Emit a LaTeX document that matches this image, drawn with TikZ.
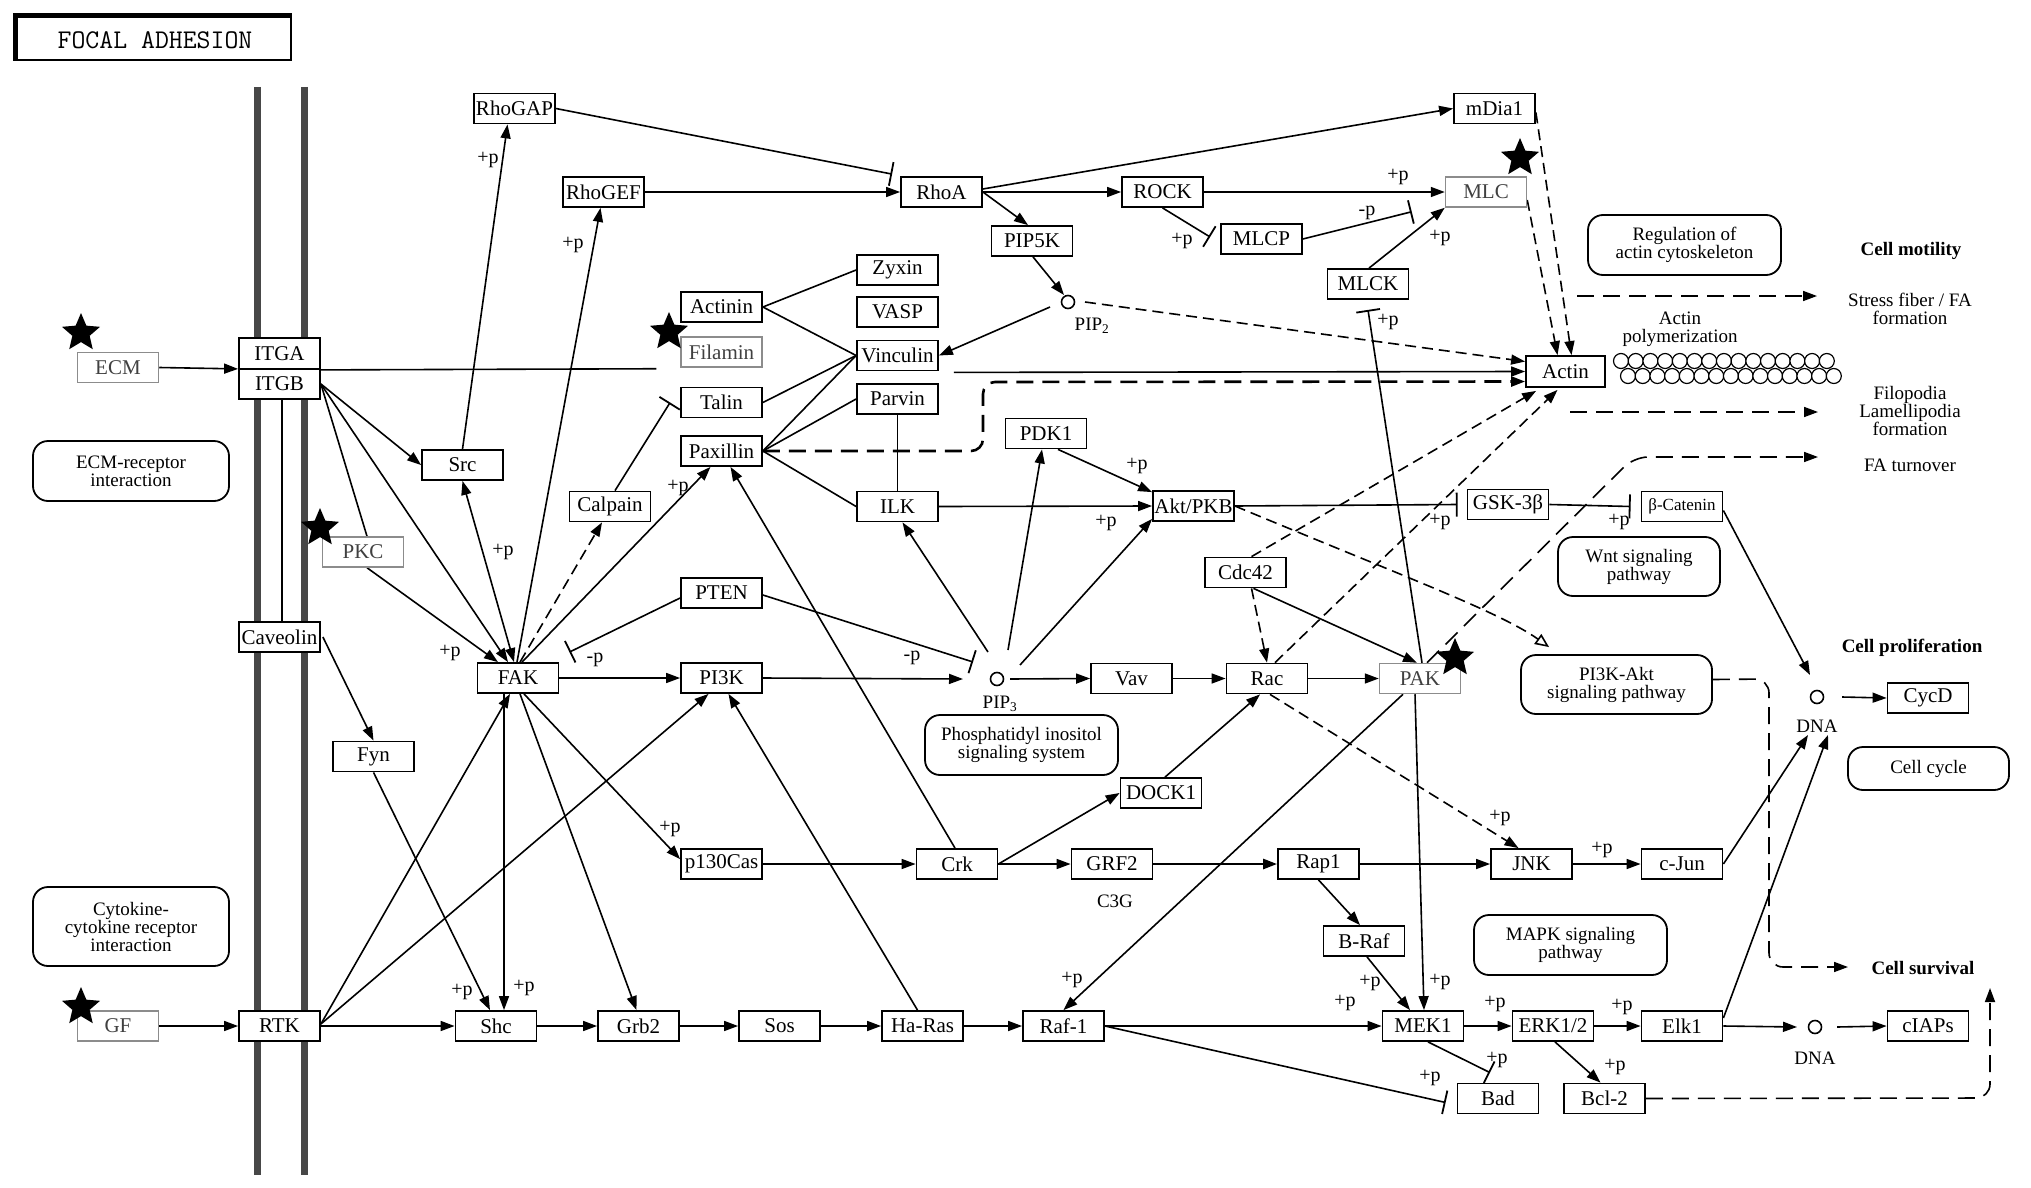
\documentclass[tikz,border=0pt]{standalone}
\usepackage{fontspec}
\setmainfont{Liberation Serif}
\usetikzlibrary{arrows.meta,shapes.geometric,calc}
\pgfdeclarelayer{bg}
\pgfsetlayers{bg,main}
\begin{document}
\begin{tikzpicture}[x=1pt,y=-1pt,
  gene/.style={draw, line width=1.8pt, fill=white, minimum width=81pt, minimum height=30pt, inner sep=0pt, font=\fontsize{21}{22}\selectfont},
  lgene/.style={gene, draw=black!45, line width=1.5pt, text=black!75},
  pwbox/.style={draw, line width=1.8pt, rounded corners=15pt, align=center, inner sep=0pt, fill=white, font=\fontsize{19}{18}\selectfont},
  con/.style={line width=1.6pt},
  act/.style={con, -{Triangle[length=14pt,width=10pt]}},
  inh/.style={con, -{Bar[width=24pt,line width=1.8pt]}},
  dsh/.style={dash pattern=on 11pt off 6pt},
  ldsh/.style={dash pattern=on 17pt off 9pt},
  lab/.style={inner sep=0pt, font=\fontsize{20}{20}\selectfont},
  txt/.style={inner sep=0pt, align=center, font=\fontsize{19}{18}\selectfont},
  btxt/.style={inner sep=0pt, align=center, font=\bfseries\fontsize{19}{18}\selectfont},
  starn/.style={star, star points=5, star point ratio=2.2, fill=black, draw=none, minimum size=40pt, inner sep=0pt},
  mol/.style={circle, draw, line width=1.6pt, minimum size=13pt, inner sep=0pt, fill=white},
]
\useasboundingbox (0,0) rectangle (2031,1188);
\begin{pgfonlayer}{bg}
\fill[white] (0,0) rectangle (2031,1188);
\draw[line width=7pt, black!72] (257,87) -- (257,1175);
\draw[line width=7pt, black!72] (304,87) -- (304,1175);
\draw[line width=1.5pt] (282,399) -- (282,622);
\end{pgfonlayer}

% title
\fill[black] (13,13) rectangle (292,61);
\fill[white] (18,18) rectangle (290,59);
\node[inner sep=0pt, font=\ttfamily\fontsize{27}{27}\selectfont] (title) at (155,40) {FOCAL ADHESION};

% genes
\node[lgene] (ecm) at (118,367.5) {ECM};
\node[gene, minimum height=31pt] (itga) at (279.5,353.5) {ITGA};
\node[gene] (itgb) at (279.5,384) {ITGB};
\node[gene] (caveolin) at (279.5,637) {Caveolin};
\node[gene] (rtk) at (279.5,1026) {RTK};
\node[lgene] (gf) at (118,1026) {GF};
\node[gene] (rhogap) at (514.5,108.5) {RhoGAP};
\node[gene] (rhogef) at (603.5,192) {RhoGEF};
\node[gene] (rhoa) at (941.5,192) {RhoA};
\node[gene] (pip5k) at (1032,241) {PIP5K};
\node[gene] (rock) at (1162.5,192) {ROCK};
\node[gene] (mlcp) at (1261.5,239) {MLCP};
\node[gene] (mlck) at (1368,284) {MLCK};
\node[gene] (mdia) at (1494.5,108.5) {mDia1};
\node[lgene] (mlc) at (1486,192) {MLC};
\node[gene] (zyxin) at (897.5,270) {Zyxin};
\node[gene] (vasp) at (897.5,312) {VASP};
\node[gene] (vinculin) at (897.5,355.5) {Vinculin};
\node[gene] (actinin) at (721.5,307) {Actinin};
\node[lgene] (filamin) at (721.5,352) {Filamin};
\node[gene] (talin) at (721.5,402.5) {Talin};
\node[gene] (paxillin) at (721.5,451) {Paxillin};
\node[gene] (parvin) at (897.5,399) {Parvin};
\node[gene] (ilk) at (897.5,506.5) {ILK};
\node[gene] (calpain) at (610,506.5) {Calpain};
\node[gene] (pten) at (721.5,593) {PTEN};
\node[gene] (pi3k) at (721.5,678) {PI3K};
\node[gene] (fak) at (518,678) {FAK};
\node[gene] (src) at (462.5,465) {Src};
\node[lgene] (pkc) at (363,552) {PKC};
\node[gene] (fyn) at (373.5,756.5) {Fyn};
\node[gene] (pdk1) at (1046,433.5) {PDK1};
\node[gene] (akt) at (1193.5,506) {Akt/PKB};
\node[gene] (gsk) at (1508,504.5) {GSK-3β};
\node[gene, font=\fontsize{17}{20}\selectfont] (bcat) at (1682,506.5) {β-Catenin};
\node[gene] (cdc42) at (1245.5,572.5) {Cdc42};
\node[gene] (vav) at (1131.5,678.5) {Vav};
\node[gene] (rac) at (1267,678.5) {Rac};
\node[lgene] (pak) at (1420,678.5) {PAK};
\node[gene] (dock1) at (1161,793) {DOCK1};
\node[gene] (p130) at (721.5,864) {p130Cas};
\node[gene] (crk) at (957,864) {Crk};
\node[gene] (grf2) at (1112,864) {GRF2};
\node[gene] (rap1) at (1318.5,864) {Rap1};
\node[gene] (jnk) at (1531.5,864) {JNK};
\node[gene] (cjun) at (1682,864) {c-Jun};
\node[gene] (braf) at (1364,941) {B-Raf};
\node[gene] (shc) at (496,1026) {Shc};
\node[gene] (grb2) at (638.5,1026) {Grb2};
\node[gene] (sos) at (779.5,1026) {Sos};
\node[gene] (haras) at (922.5,1026) {Ha-Ras};
\node[gene] (raf1) at (1063.5,1026) {Raf-1};
\node[gene] (mek1) at (1423,1026) {MEK1};
\node[gene] (erk) at (1553,1026) {ERK1/2};
\node[gene] (elk1) at (1682,1026) {Elk1};
\node[gene] (ciaps) at (1928,1026) {cIAPs};
\node[gene] (cycd) at (1928,698) {CycD};
\node[gene] (bad) at (1498,1098.5) {Bad};
\node[gene] (bcl2) at (1604.5,1098.5) {Bcl-2};
\node[gene, minimum width=79pt, minimum height=31pt] (actin) at (1565.5,371.5) {Actin};

% small molecules
\node[mol] (pip2) at (1068,302) {};
\node[mol] (pip3) at (997,679) {};
\node[mol] (dna1) at (1817,697) {};
\node[mol] (dna2) at (1815,1027) {};
\node[txt] (pip2l) at (1092,326) {PIP\textsubscript{2}};
\node[txt] (pip3l) at (1000,704) {PIP\textsubscript{3}};
\node[txt] (dna1l) at (1817,726) {DNA};
\node[txt] (dna2l) at (1815,1058) {DNA};
\node[txt] (c3g) at (1115,901) {C3G};

% pathway boxes
\node[pwbox, minimum width=196pt, minimum height=60pt] (ecmri) at (131,471) {ECM-receptor\\interaction};
\node[pwbox, minimum width=196pt, minimum height=79pt] (cytri) at (131,926.5) {Cytokine-\\cytokine receptor\\interaction};
\node[pwbox, minimum width=193pt, minimum height=60pt] (regact) at (1684.5,245) {Regulation of\\actin cytoskeleton};
\node[pwbox, minimum width=162pt, minimum height=59pt] (wnt) at (1639,566.5) {Wnt signaling\\pathway};
\node[pwbox, minimum width=191pt, minimum height=59pt] (pi3kakt) at (1616.5,684.5) {PI3K-Akt\\signaling pathway};
\node[pwbox, minimum width=193pt, minimum height=60pt] (phos) at (1021.5,745) {Phosphatidyl inositol\\signaling system};
\node[pwbox, minimum width=193pt, minimum height=60pt] (mapk) at (1570.5,945) {MAPK signaling\\pathway};
\node[pwbox, minimum width=161pt, minimum height=43pt] (ccycle) at (1928.5,768.5) {Cell cycle};

% outcome texts
\node[btxt] (motil) at (1911,251) {Cell motility};
\node[txt] (sfiber) at (1910,309) {Stress fiber / FA\\formation};
\node[txt] (apoly) at (1680,329) {Actin\\polymerization};
\node[txt] (filo) at (1910,411) {Filopodia\\Lamellipodia\\formation};
\node[txt] (faturn) at (1910,465) {FA turnover};
\node[btxt] (prolif) at (1912,648) {Cell proliferation};
\node[btxt] (surv) at (1923,968) {Cell survival};

% actin filament
\foreach \i in {0,...,14} {
  \draw[line width=1.2pt, fill=white] (1621+\i*14.7,361) circle (7.5);
}
\foreach \i in {0,...,14} {
  \draw[line width=1.2pt, fill=white] (1628+\i*14.7,376) circle (7.5);
}

% +p / -p labels
\node[lab] (p1) at (488,160) {+p};
\node[lab] (p2) at (573,245) {+p};
\node[lab] (p3) at (1398,177) {+p};
\node[lab] (p4) at (1182,241) {+p};
\node[lab] (p5) at (1367,213) {-p};
\node[lab] (p6) at (1440,238) {+p};
\node[lab] (p7) at (1388,322) {+p};
\node[lab] (p8) at (503,552) {+p};
\node[lab] (p9) at (450,653) {+p};
\node[lab] (p10) at (678,488) {+p};
\node[lab] (p11) at (595,660) {-p};
\node[lab] (p12) at (912,658) {-p};
\node[lab] (p13) at (1137,466) {+p};
\node[lab] (p14) at (1106,523) {+p};
\node[lab] (p15) at (1440,522) {+p};
\node[lab] (p16) at (1619,522) {+p};
\node[lab] (p17) at (670,829) {+p};
\node[lab] (p18) at (462,992) {+p};
\node[lab] (p19) at (524,988) {+p};
\node[lab] (p20) at (1072,980) {+p};
\node[lab] (p21) at (1500,818) {+p};
\node[lab] (p22) at (1602,850) {+p};
\node[lab] (p23) at (1370,983) {+p};
\node[lab] (p24) at (1440,982) {+p};
\node[lab] (p25) at (1345,1003) {+p};
\node[lab] (p26) at (1495,1004) {+p};
\node[lab] (p27) at (1622,1007) {+p};
\node[lab] (p28) at (1615,1067) {+p};
\node[lab] (p29) at (1430,1078) {+p};
\node[lab] (p30) at (1497,1060) {+p};

% stars
\node[starn] (st1) at (81,333) {};
\node[starn] (st2) at (669,332) {};
\node[starn] (st3) at (320,528) {};
\node[starn] (st4) at (1520,158) {};
\node[starn] (st5) at (1455,658) {};
\node[starn] (st6) at (81,1007) {};

% free end points
\coordinate (sf0) at (1577,296);
\coordinate (sf1) at (1817,296);
\coordinate (fl0) at (1570,412);
\coordinate (fl1) at (1818,412);
\coordinate (fat1) at (1818,457);
\coordinate (cs1) at (1848,967);
\coordinate (cs2) at (1990,988);

\begin{pgfonlayer}{bg}
% membrane receptors
\draw[act] (ecm.east) -- ($(itga.south west)+(0,-1)$);
\draw[act] (gf.east) -- (rtk.west);
\draw[con] (itga.south east) -- ($(filamin.south west)+(-24,1)$);
\draw[act] ($(vinculin.south east)+(15,1)$) -- (actin.west);
\draw[act] (itgb.east) -- (src.west);
\draw[con] (itgb.east) -- ($(pkc.north)+(4,0)$);
\draw[act] (itgb.east) -- ($(fak.north)+(-10,0)$);
\draw[act] ($(pkc.south)+(4,0)$) -- ($(fak.north)+(-20,0)$);
\draw[con, {Triangle[length=14pt,width=10pt]}-{Triangle[length=14pt,width=10pt]}] (src.south) -- ($(fak.north)+(-4,0)$);
\draw[act] (src.north) -- ($(rhogap.south)+(-7,0)$);
\draw[act] ($(fak.north)+(-1,0)$) -- ($(rhogef.south)+(-3,0)$);
\draw[act, dsh] ($(fak.north)+(2,0)$) -- ($(calpain.south)+(-8,0)$);
\draw[act] ($(fak.north)+(4,0)$) -- ($(paxillin.south)+(-11,0)$);
\draw[act] ($(crk.north)+(-2,0)$) -- ($(paxillin.south)+(9,0)$);
\draw[inh] ($(pten.west)+(0,5)$) -- ($(fak.north east)+(10,-10)$);
\draw[act] (fak.east) -- (pi3k.west);
\draw[act] (pi3k.east) -- ($(pip3)+(-34,0)$);
\draw[inh] ($(pten.east)+(0,2)$) -- ($(pip3)+(-24,-17)$);
\draw[act] ($(pip3)+(-9,-27)$) -- ($(ilk.south)+(5,0)$);
\draw[act] ($(pip3)+(11,-29)$) -- ($(pdk1.south)+(-4,0)$);
\draw[act] ($(pip3)+(23,-14)$) -- ($(akt.south west)+(0,-3)$);
\draw[act] ($(pdk1.south)+(12,0)$) -- ($(akt.north west)+(0,2)$);
\draw[act] (ilk.east) -- (akt.west);
\draw[inh] (akt.east) -- ($(gsk.west)+(-9,0)$);
\draw[inh] (gsk.east) -- ($(bcat.west)+(-10,0)$);
\draw[act] ($(bcat.east)+(0,4)$) -- ($(dna1)+(-7,-22)$);
\draw[act] (cjun.east) -- ($(dna1)+(-9,38)$);
\draw[act] ($(elk1.east)+(0,-8)$) -- ($(dna1)+(11,38)$);
\draw[act] ($(dna1)+(25,0)$) -- (cycd.west);
\draw[act] (elk1.east) -- ($(dna2)+(-18,0)$);
\draw[act] ($(dna2)+(22,0)$) -- (ciaps.west);
\draw[con, dsh, -{Triangle[open,length=14pt,width=12pt,line width=1.6pt]}] (akt.east) .. controls (1400,575) and (1500,612) .. ($(pi3kakt.north west)+(29,-7)$);
% Rho / actin
\draw[act] (rhogef.east) -- (rhoa.west);
\draw[inh] (rhogap.east) -- ($(rhoa.north west)+(-8,-2)$);
\draw[act] (rhoa.east) -- ($(pip5k.north)+(-4,0)$);
\draw[act] (rhoa.east) -- (rock.west);
\draw[act] ($(rhoa.east)+(0,-3)$) -- (mdia.west);
\draw[act] ($(pip5k.south)+(1,0)$) -- ($(pip2)+(-4,-7)$);
\draw[act] ($(pip2)+(-18,5)$) -- (vinculin.east);
\draw[act, dsh] ($(pip2)+(17,0)$) -- ($(actin.west)+(0,-10)$);
\draw[act] (rock.east) -- (mlc.west);
\draw[inh] (rock.south) -- ($(mlcp.west)+(-10,-2)$);
\draw[inh] (mlcp.east) -- ($(mlc.south west)+(-33,4)$);
\draw[act] ($(mlck.north)+(1,0)$) -- (mlc.south west);
\draw[act, dsh] ($(mdia.east)+(0,4)$) -- ($(actin.north)+(6,0)$);
\draw[act, dsh] ($(mlc.east)+(0,8)$) -- ($(actin.north)+(-8,0)$);
\draw[con, line width=2.6pt, ldsh, rounded corners=12pt, -{Triangle[length=14pt,width=10pt]}] (paxillin.east) -- (983,451) -- (983,382) -- ($(actin.west)+(0,10)$);
\draw[con] (actinin.east) -- (zyxin.west);
\draw[con] (actinin.east) -- (vinculin.west);
\draw[con] (talin.east) -- (vinculin.west);
\draw[con] (paxillin.east) -- (vinculin.west);
\draw[con] (paxillin.east) -- (parvin.west);
\draw[con] (paxillin.east) -- (ilk.west);
\draw[con] (parvin.south) -- (ilk.north);
\draw[inh] ($(calpain.north)+(5,0)$) -- ($(talin.west)+(-10,0)$);
% outcomes
\draw[act, ldsh] (sf0) -- (sf1);
\draw[act, ldsh] (fl0) -- (fl1);
\draw[act, ldsh, rounded corners=14pt] ($(pak.north)+(7,0)$) -- (1634,457) -- (fat1);
\draw[act, ldsh, rounded corners=14pt] ($(pi3kakt.east)+(0,-5)$) -- (1769,679) -- (1769,967) -- (cs1);
\draw[act, ldsh, rounded corners=14pt] (bcl2.east) -- (1990,1098) -- (cs2);
% Rac / PAK
\draw[act] ($(pip3)+(13,0)$) -- (vav.west);
\draw[act] (vav.east) -- (rac.west);
\draw[act] (rac.east) -- (pak.west);
\draw[act, dsh] ($(cdc42.south)+(6,0)$) -- (rac.north);
\draw[act] ($(cdc42.south)+(8,0)$) -- ($(pak.north)+(-3,0)$);
\draw[act, dsh] ($(cdc42.north)+(6,0)$) -- ($(actin.south west)+(11,3)$);
\draw[act, dsh] ($(rac.north)+(8,0)$) -- ($(actin.south)+(-8,2)$);
\draw[inh] ($(pak.north)+(2,0)$) -- ($(mlck.south)+(0,10)$);
\draw[act] ($(pak.south)+(-5,0)$) -- ($(mek1.north)+(1,0)$);
\draw[act] ($(pak.south)+(-17,0)$) -- (raf1.north);
\draw[act, dsh] ($(rac.south)+(3,0)$) -- ($(jnk.north)+(-13,0)$);
\draw[act] ($(dock1.north)+(4,0)$) -- ($(rac.south)+(-7,0)$);
\draw[act] (crk.east) -- (dock1.west);
\draw[act] (crk.east) -- (grf2.west);
\draw[act, line width=2.6pt] (grf2.east) -- (rap1.west);
\draw[act] (rap1.east) -- (jnk.west);
\draw[act] (jnk.east) -- (cjun.west);
\draw[act] (rap1.south) -- ($(braf.north)+(-4,0)$);
\draw[act] ($(braf.south)+(3,0)$) -- ($(mek1.north)+(-13,0)$);
\draw[act] (raf1.east) -- (mek1.west);
\draw[act] (mek1.east) -- (erk.west);
\draw[act] (erk.east) -- (elk1.west);
\draw[act] ($(erk.south)+(2,0)$) -- ($(bcl2.north)+(-4,0)$);
\draw[inh] (raf1.east) -- ($(bad.west)+(-11,4)$);
\draw[inh] ($(mek1.south)+(5,0)$) -- ($(bad.north)+(-8,-10)$);
% lower left
\draw[act] (rtk.east) -- (shc.west);
\draw[act] (shc.east) -- (grb2.west);
\draw[act] (grb2.east) -- (sos.west);
\draw[act] (sos.east) -- (haras.west);
\draw[act] (haras.east) -- (raf1.west);
\draw[act] ($(rtk.east)+(0,-2)$) -- ($(fak.south)+(-8,0)$);
\draw[act] ($(rtk.east)+(0,-2)$) -- ($(pi3k.south)+(-13,0)$);
\draw[act] ($(haras.north)+(-5,0)$) -- ($(pi3k.south)+(7,0)$);
\draw[act] ($(fak.south)+(-14,0)$) -- ($(shc.north)+(8,0)$);
\draw[act] ($(fak.south)+(2,0)$) -- ($(grb2.north)+(-2,0)$);
\draw[act] ($(fak.south)+(6,0)$) -- ($(p130.north west)+(0,11)$);
\draw[act] (p130.east) -- (crk.west);
\draw[act] ($(caveolin.east)+(2,0)$) -- (fyn.north);
\draw[act] (fyn.south) -- ($(shc.north)+(-6,0)$);
\end{pgfonlayer}
\end{tikzpicture}
\end{document}
